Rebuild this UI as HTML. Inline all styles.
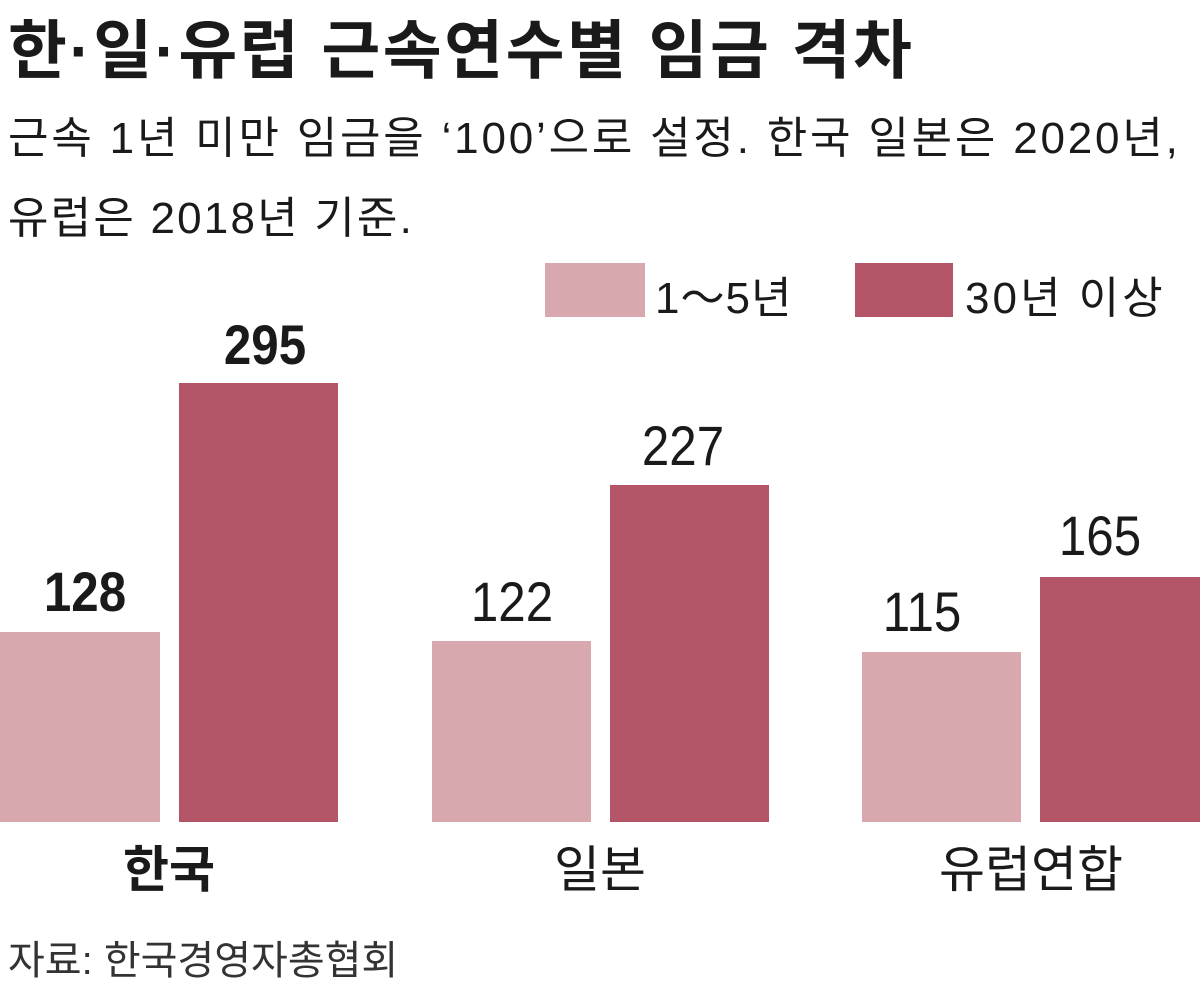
<!DOCTYPE html>
<html><head><meta charset="utf-8"><style>
body{margin:0;width:1200px;height:984px;background:#fff;position:relative;overflow:hidden;font-family:"Liberation Sans","Noto Sans CJK KR",sans-serif;color:#1a1a1a}
.a{position:absolute;white-space:nowrap}
.bar{position:absolute}
.l{background:#d9a8af}.d{background:#b35566}
.n{position:absolute;font-size:56px;font-weight:bold;width:160px;text-align:center;transform:scaleX(0.88)}
.c{position:absolute;font-size:50px;width:300px;text-align:center}
</style></head><body>
<div class="a" style="left:8px;top:0px;font-size:64px;font-weight:bold;letter-spacing:2.5px">한·일·유럽 근속연수별 임금 격차</div>
<div class="a" style="left:8px;top:102px;font-size:44px;letter-spacing:2.8px">근속 1년 미만 임금을 ‘100’으로 설정. 한국 일본은 2020년,</div>
<div class="a" style="left:8px;top:182px;font-size:44px;letter-spacing:2.2px">유럽은 2018년 기준.</div>
<div class="bar l" style="left:545px;top:263px;width:100px;height:54px"></div>
<div class="a" style="left:655px;top:262px;font-size:44px;letter-spacing:1px">1～5년</div>
<div class="bar d" style="left:855px;top:263px;width:98px;height:54px"></div>
<div class="a" style="left:965px;top:262px;font-size:44px;letter-spacing:3px">30년 이상</div>

<div class="bar l" style="left:0;top:632px;width:160px;height:190px"></div>
<div class="bar d" style="left:179px;top:383px;width:159px;height:439px"></div>
<div class="bar l" style="left:432px;top:641px;width:159px;height:181px"></div>
<div class="bar d" style="left:610px;top:485px;width:159px;height:337px"></div>
<div class="bar l" style="left:862px;top:652px;width:159px;height:170px"></div>
<div class="bar d" style="left:1040px;top:577px;width:160px;height:245px"></div>

<div class="n" style="left:5px;top:559px">128</div>
<div class="n" style="left:185px;top:312px">295</div>
<div class="n" style="left:432px;top:569px;font-weight:normal">122</div>
<div class="n" style="left:603px;top:413px;font-weight:normal">227</div>
<div class="n" style="left:842px;top:579px;font-weight:normal">115</div>
<div class="n" style="left:1020px;top:503px;font-weight:normal">165</div>

<div class="c" style="left:19px;top:830px;font-weight:bold">한국</div>
<div class="c" style="left:450px;top:830px">일본</div>
<div class="c" style="left:881px;top:830px">유럽연합</div>
<div class="a" style="left:8px;top:928px;font-size:40px;color:#333">자료: 한국경영자총협회</div>
</body></html>
